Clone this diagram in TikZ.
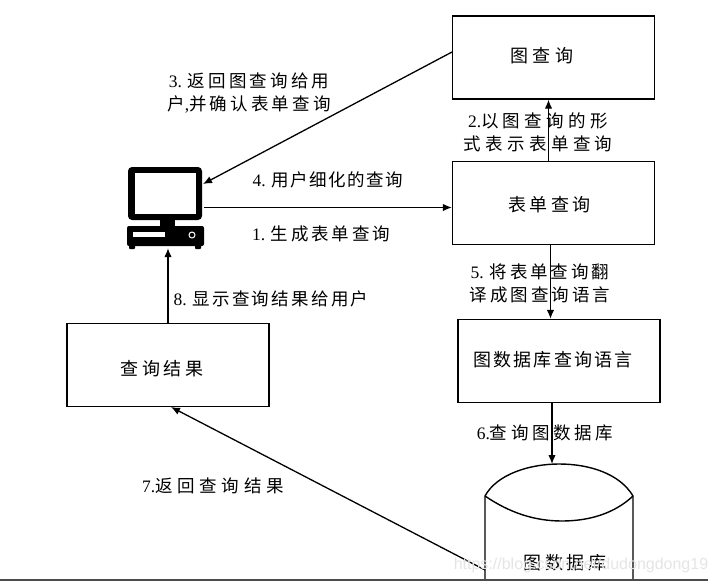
\documentclass[tikz,border=0pt]{standalone}
\usepackage{fontspec}
\usepackage{tikz}
\usetikzlibrary{arrows.meta}
\setmainfont{Liberation Serif}
\setsansfont{Liberation Sans}
\newfontfamily\cjk{Noto Sans CJK SC}
\newcommand{\lat}[1]{{\rmfamily #1}}
% text of a box, moved left by #1/2
\newcommand{\boxtext}[2]{#2\hspace*{#1}}
\tikzset{
  box/.style={draw,line width=1.4pt,minimum width=202pt,minimum height=83pt,inner sep=0pt,text depth=10pt,font=\fontsize{18}{22}\selectfont\cjk\addfontfeature{LetterSpace=#1}},
  flow/.style={-{Latex[length=9pt,width=7.5pt]},line width=1.3pt},
  lab/.style={inner sep=0pt,align=center,font=\fontsize{17.5}{23}\selectfont\cjk\addfontfeature{LetterSpace=#1}}
}
\begin{document}
\begin{tikzpicture}[x=1pt,y=-1pt]
\useasboundingbox (0,0) rectangle (716,584);
\fill[white] (0,0) rectangle (716,584);
% boxes
\node[box=26,text height=20pt] (graphq) at (553.5,57.5) {\boxtext{23pt}{图查询}};
\node[box=18,text height=26pt] (formq) at (553.5,203) {\boxtext{8pt}{表单查询}};
\node[box=12,text height=20pt] (lang) at (559,361) {\boxtext{12pt}{图数据库查询语言}};
\node[box=19,text height=30pt] (result) at (168,365) {\boxtext{12pt}{查询结果}};
% computer
\node[minimum width=76pt,minimum height=81pt,inner sep=0pt] (pc) at (166,207.5) {};
\fill[black,rounded corners=4pt] (128,167) rectangle (202,220);
\fill[white] (135,173) rectangle (196,214);
\fill[black] (160,220) rectangle (175,228);
\fill[black,rounded corners=2pt] (127,226) rectangle (204,246);
\fill[black,rounded corners=1pt] (129,244) rectangle (135,249);
\fill[black,rounded corners=1pt] (195,244) rectangle (201,249);
\fill[white] (133,232) rectangle (165,237);
\draw[white,line width=1pt] (192,235) circle (3pt);
% cylinder
\coordinate (dbl) at (485,496);
\coordinate (dbr) at (633,496);
\coordinate (dbtop) at (559,464);
\draw[line width=1.4pt] (485,580) -- (dbl) .. controls (497,474) and (530,464) .. (dbtop)
  .. controls (590,464) and (620,474) .. (dbr) -- (633,580);
\draw[line width=1.4pt] (dbl) .. controls (510,513) and (535,521) .. (562,521)
  .. controls (590,521) and (615,513) .. (dbr);
\node[lab=19,font=\fontsize{18}{22}\selectfont\cjk\addfontfeature{LetterSpace=19}] (db) at (565,563) {图数据库};
% ground line
\coordinate (linel) at (0,580);
\coordinate (liner) at (708,580);
\draw[line width=1.2pt,black!70] (linel) -- (liner);
% connectors
\coordinate (pcin) at (203,184);
\coordinate (graphout) at (452,52);
\coordinate (dbout) at (485,570);
\coordinate (resin) at (171,407);
\draw[flow] (graphout) -- (pcin);
\draw[flow] (pc.east) -- (pc.east -| formq.west);
\draw[flow] (result.north) -- (result.north |- pc.south);
\draw[flow] ([xshift=-5]formq.north) -- ([xshift=-5]formq.north |- graphq.south);
\draw[flow] ([xshift=-3]formq.south) -- ([xshift=-3]formq.south |- lang.north);
\draw[flow] ([xshift=-7]lang.south) -- ([xshift=-7]lang.south |- dbtop);
\draw[flow] (dbout) -- (resin);
% labels
\node[lab=18] (step3) at (249,93) {\lat{3. }返回图查询给用\\户\lat{,}并确认表单查询};
\node[lab=25] (step2) at (538,132) {\lat{2.}以图查询的形\\式表示表单查询};
\node[lab=9] (step4) at (328,180) {\lat{4. }用户细化的查询};
\node[lab=16] (step1) at (321,234) {\lat{1. }生成表单查询};
\node[lab=17] (step5) at (540,283) {\lat{5. }将表单查询翻\\译成图查询语言};
\node[lab=13] (step8) at (271,299) {\lat{8. }显示查询结果给用户};
\node[lab=21] (step6) at (545,433) {\lat{6.}查询图数据库};
\node[lab=27] (step7) at (213,486) {\lat{7.}返回查询结果};
% watermark
\node[inner sep=0pt,text=black!10,font=\fontsize{16}{20}\sffamily] (mark) at (581,565) {https://blog.csdn.net/dudongdong19};
\end{tikzpicture}
\end{document}
